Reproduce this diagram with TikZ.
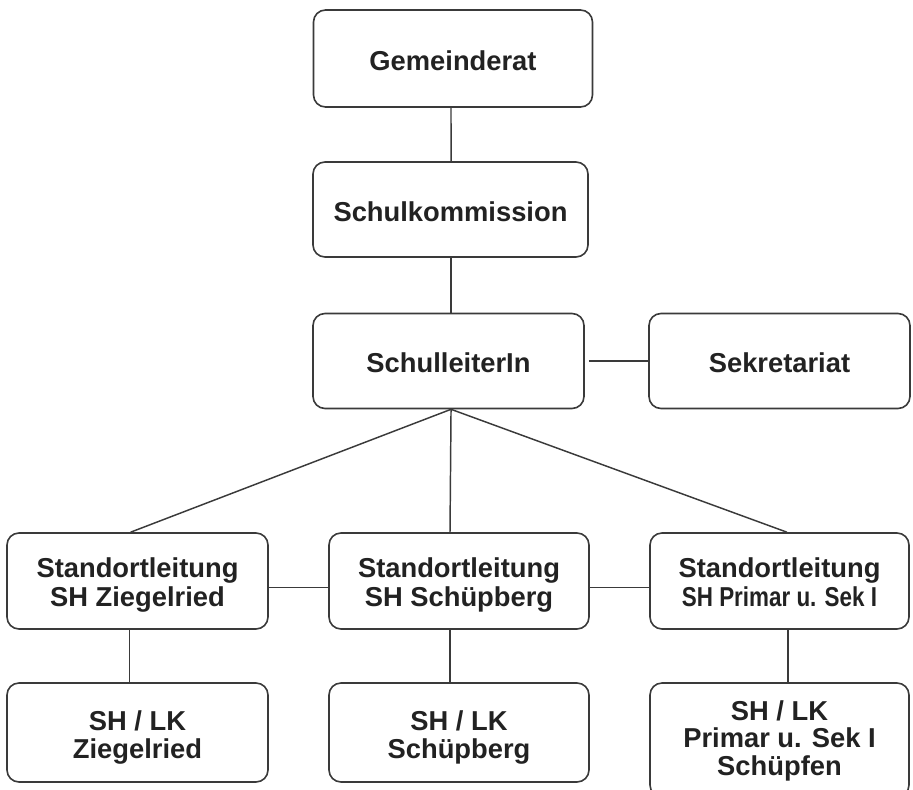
\documentclass[tikz,border=0pt]{standalone}
\usepackage{fontspec}
\setmainfont{Liberation Sans}
\usepackage{graphicx}
\definecolor{linec}{HTML}{3A3A3A}
\definecolor{textc}{HTML}{222222}
\newcommand{\boxtext}[2]{\raisebox{#1}[\height][\depth]{\renewcommand{\arraystretch}{1}\begin{tabular}{@{}c@{}}#2\end{tabular}}}
\begin{document}
\begin{tikzpicture}[x=0.75pt,y=-0.75pt,
  box/.style={draw=linec, line width=1.2pt, rounded corners=9pt, fill=white, text=textc,
    font=\fontsize{20.5}{21}\selectfont\bfseries, inner sep=0pt},
  conn/.style={draw=linec, line width=1.1pt}]
\useasboundingbox (0,0) rectangle (913,789);
\clip (0,0) rectangle (913,789);

\node[box, minimum width=209.25pt, minimum height=72.75pt] (gem) at (453,58.5) {\boxtext{-4.5pt}{Gemeinderat}};
\node[box, minimum width=206.25pt, minimum height=71.25pt] (sk) at (450.5,209.5) {\boxtext{-4.5pt}{Schulkommission}};
\node[box, minimum width=203.25pt, minimum height=71.25pt] (sl) at (448.5,361) {\boxtext{-4.5pt}{SchulleiterIn}};
\node[box, minimum width=195.75pt, minimum height=71.25pt] (sek) at (779.5,361) {\boxtext{-4.5pt}{Sekretariat}};

\node[box, minimum width=195.75pt, minimum height=72pt] (st1) at (137.5,581) {\boxtext{-4pt}{Standortleitung\\SH Ziegelried}};
\node[box, minimum width=195pt, minimum height=72pt] (st2) at (459,581) {\boxtext{-4pt}{Standortleitung\\SH Schüpberg}};
\node[box, minimum width=194.25pt, minimum height=72pt] (st3) at (779.5,581) {\boxtext{-4pt}{Standortleitung\\\scalebox{0.82}[1]{SH Primar u. Sek I}}};

\node[box, minimum width=195.75pt, minimum height=74.25pt, font=\fontsize{20.5}{20}\selectfont\bfseries] (lk1) at (137.5,732.5) {\boxtext{-4.5pt}{SH / LK\\Ziegelried}};
\node[box, minimum width=195pt, minimum height=74.25pt, font=\fontsize{20.5}{20}\selectfont\bfseries] (lk2) at (459,732.5) {\boxtext{-4.5pt}{SH / LK\\Schüpberg}};
\node[box, minimum width=194.25pt, minimum height=85.5pt, font=\fontsize{20.5}{20}\selectfont\bfseries] (lk3) at (779.5,740) {\boxtext{-1.5pt}{SH / LK\\Primar u. Sek I\\Schüpfen}};

\draw[conn] ([xshift=-1.5pt]gem.south) -- ([xshift=0.4pt]sk.north);
\draw[conn] ([xshift=0.4pt]sk.south) -- ([xshift=1.9pt]sl.north);
\draw[conn, shorten <=3pt] (sl.east) -- (sek.west);
\draw[conn] ([xshift=1.9pt]sl.south) -- ([xshift=-5.2pt]st1.north);
\draw[conn] ([xshift=1.9pt]sl.south) -- ([xshift=-6.75pt]st2.north);
\draw[conn] ([xshift=1.9pt]sl.south) -- ([xshift=5.6pt]st3.north);
\draw[conn] ([yshift=-5pt]st1.east) -- ([yshift=-5pt]st2.west);
\draw[conn] ([yshift=-5pt]st2.east) -- ([yshift=-5pt]st3.west);
\draw[conn] ([xshift=-6pt]st1.south) -- ([xshift=-6pt]lk1.north);
\draw[conn] ([xshift=-6.75pt]st2.south) -- ([xshift=-6.75pt]lk2.north);
\draw[conn] ([xshift=6.4pt]st3.south) -- ([xshift=6.4pt]lk3.north);
\end{tikzpicture}
\end{document}
